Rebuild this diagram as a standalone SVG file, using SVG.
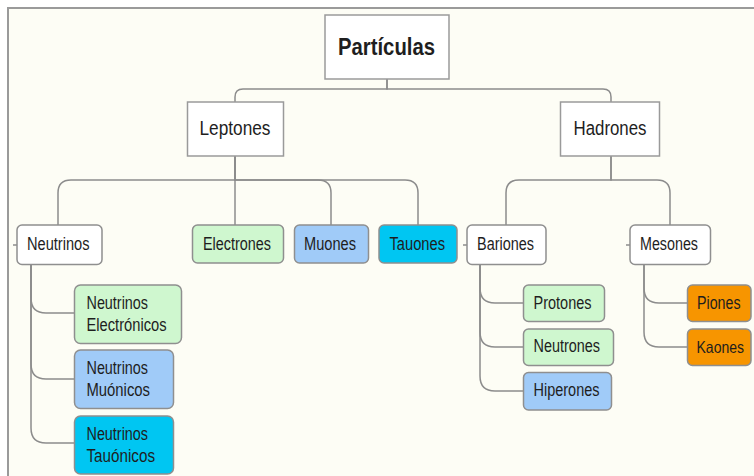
<svg xmlns="http://www.w3.org/2000/svg" width="754" height="476" viewBox="0 0 754 476">
<defs>
<style>
.bg{fill:#fdfdf5}
.frame{fill:none;stroke:#9a9a9a;stroke-width:2}
.top{fill:#ffffff;stroke:#9a9a9a;stroke-width:1.5}
.box{stroke:#8f8f8f;stroke-width:1.5}
.w{fill:#ffffff}
.g{fill:#cff7cf}
.b{fill:#a0cbf8}
.c{fill:#00c6f2}
.o{fill:#f79500}
text{font-family:"Liberation Sans",Arial,sans-serif;fill:#1e1e1e}
.t1{font-size:24px;font-weight:bold}
.t2{font-size:20px}
.t3{font-size:17.5px}
.t4{font-size:16.5px}
.conn path{fill:none;stroke:#8c8c8c;stroke-width:1.5}
</style>
</defs>
<rect x="0" y="0" width="754" height="476" fill="#ffffff"/>
<rect class="bg" x="8" y="8" width="746" height="468"/>
<path class="frame" d="M8,476 V8 H754"/>

<g id="connectors" class="conn">
<path d="M387,79 V89 H243 Q235,89 235,97 V102"/>
<path d="M387,79 V89 H603 Q611,89 611,97 V102"/>
<path d="M235,156 V225"/>
<path d="M235,156 V180 H71 Q58,180 58,193 V225"/>
<path d="M235,156 V180 H318 Q331,180 331,193 V225"/>
<path d="M235,156 V180 H405 Q418,180 418,193 V225"/>
<path d="M611,156 V180 H519 Q506,180 506,193 V225"/>
<path d="M611,156 V180 H657 Q670,180 670,193 V225"/>
<path d="M31,264 V298 Q31,313 46,313 H74"/>
<path d="M31,264 V364 Q31,379 46,379 H74"/>
<path d="M31,264 V428 Q31,443 46,443 H74"/>
<path d="M480,264 V288 Q480,303 495,303 H523"/>
<path d="M480,264 V332 Q480,347 495,347 H523"/>
<path d="M480,264 V376 Q480,391 495,391 H523"/>
<path d="M644,264 V288 Q644,303 659,303 H687"/>
<path d="M644,264 V332 Q644,347 659,347 H687"/>
<path d="M13,245 H17"/>
<path d="M463,245 H467"/>
<path d="M626,245 H630"/>
</g>

<g id="particulas">
<rect class="top" x="325" y="15" width="124" height="64"/>
<text class="t1" x="338" y="55" textLength="97" lengthAdjust="spacingAndGlyphs">Partículas</text>
</g>
<g id="leptones">
<rect class="top" x="187.5" y="102" width="96" height="54"/>
<text class="t2" x="199.5" y="135" textLength="71" lengthAdjust="spacingAndGlyphs">Leptones</text>
</g>
<g id="hadrones">
<rect class="top" x="560.5" y="102" width="99" height="54"/>
<text class="t2" x="573.5" y="135" textLength="73" lengthAdjust="spacingAndGlyphs">Hadrones</text>
</g>

<g id="neutrinos">
<rect class="box w" x="17" y="225" width="85" height="39.5" rx="5"/>
<text class="t3" x="27" y="249.5" textLength="62.5" lengthAdjust="spacingAndGlyphs">Neutrinos</text>
</g>
<g id="electrones">
<rect class="box g" x="192.5" y="225" width="91" height="38" rx="5"/>
<text class="t3" x="203" y="249.5" textLength="68" lengthAdjust="spacingAndGlyphs">Electrones</text>
</g>
<g id="muones">
<rect class="box b" x="294.5" y="225" width="74" height="38" rx="5"/>
<text class="t3" x="304" y="249.5" textLength="52" lengthAdjust="spacingAndGlyphs">Muones</text>
</g>
<g id="tauones">
<rect class="box c" x="379" y="225" width="78" height="38" rx="5"/>
<text class="t3" x="389.5" y="249.5" textLength="55.5" lengthAdjust="spacingAndGlyphs">Tauones</text>
</g>
<g id="bariones">
<rect class="box w" x="467" y="225" width="79" height="39.5" rx="5"/>
<text class="t3" x="477" y="249.5" textLength="57" lengthAdjust="spacingAndGlyphs">Bariones</text>
</g>
<g id="mesones">
<rect class="box w" x="630" y="225" width="80.5" height="39.5" rx="5"/>
<text class="t3" x="640" y="249.5" textLength="58" lengthAdjust="spacingAndGlyphs">Mesones</text>
</g>

<g id="neutrinos-electronicos">
<rect class="box g" x="74.5" y="285" width="107" height="58.5" rx="6"/>
<text class="t3" x="86.5" y="308.5" textLength="61.5" lengthAdjust="spacingAndGlyphs">Neutrinos</text>
<text class="t3" x="86.5" y="330.5" textLength="80" lengthAdjust="spacingAndGlyphs">Electrónicos</text>
</g>
<g id="neutrinos-muonicos">
<rect class="box b" x="74.5" y="350" width="99" height="58.5" rx="6"/>
<text class="t3" x="86.5" y="373.5" textLength="61.5" lengthAdjust="spacingAndGlyphs">Neutrinos</text>
<text class="t3" x="86.5" y="395.5" textLength="63.5" lengthAdjust="spacingAndGlyphs">Muónicos</text>
</g>
<g id="neutrinos-tauonicos">
<rect class="box c" x="74.5" y="416" width="99" height="58" rx="6"/>
<text class="t3" x="86.5" y="439.5" textLength="61.5" lengthAdjust="spacingAndGlyphs">Neutrinos</text>
<text class="t3" x="86.5" y="462" textLength="68.5" lengthAdjust="spacingAndGlyphs">Tauónicos</text>
</g>

<g id="protones">
<rect class="box g" x="523.5" y="285" width="81" height="36.5" rx="5"/>
<text class="t3" x="533.5" y="308.5" textLength="58" lengthAdjust="spacingAndGlyphs">Protones</text>
</g>
<g id="neutrones">
<rect class="box g" x="523.5" y="329" width="90" height="36.5" rx="5"/>
<text class="t3" x="533.5" y="352" textLength="66.5" lengthAdjust="spacingAndGlyphs">Neutrones</text>
</g>
<g id="hiperones">
<rect class="box b" x="523.5" y="372.5" width="88" height="37.5" rx="5"/>
<text class="t3" x="533.5" y="395.5" textLength="66" lengthAdjust="spacingAndGlyphs">Hiperones</text>
</g>
<g id="piones">
<rect class="box o" x="687.5" y="285" width="63.5" height="36.5" rx="5"/>
<text class="t3" x="697" y="308.5" textLength="43.5" lengthAdjust="spacingAndGlyphs">Piones</text>
</g>
<g id="kaones">
<rect class="box o" x="687.5" y="329" width="63.5" height="36.5" rx="5"/>
<text class="t4" x="696.5" y="352.5" textLength="47.5" lengthAdjust="spacingAndGlyphs">Kaones</text>
</g>
</svg>
